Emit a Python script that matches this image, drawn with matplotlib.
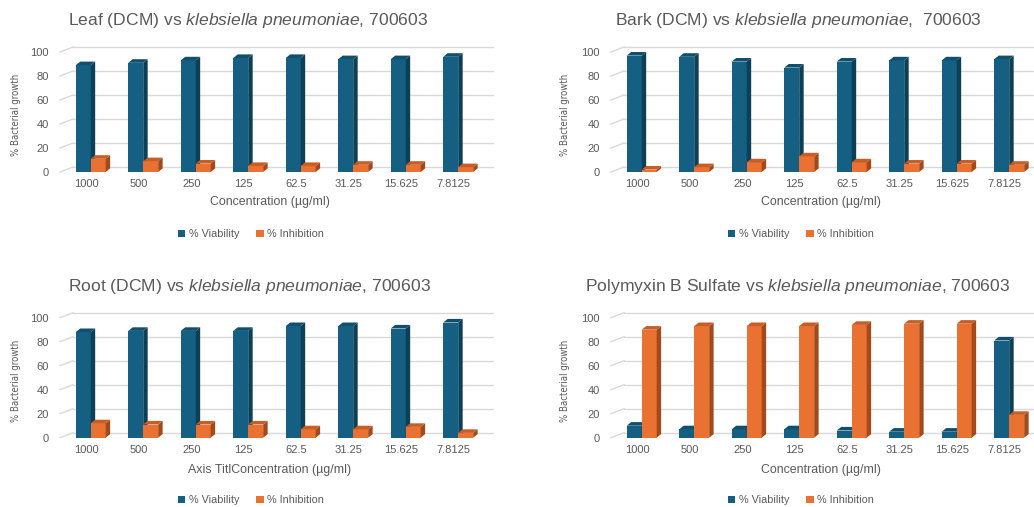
import matplotlib
matplotlib.use("Agg")
import matplotlib.pyplot as plt
from matplotlib.patches import Polygon, Patch
from matplotlib import font_manager

plt.rcParams['font.family'] = ['Liberation Sans', 'DejaVu Sans']
plt.rcParams['mathtext.fontset'] = 'custom'
plt.rcParams['mathtext.rm'] = 'Liberation Sans'
plt.rcParams['mathtext.it'] = 'Liberation Sans:italic'

# ---- data -------------------------------------------------------------
categories = ['1000', '500', '250', '125', '62.5', '31.25', '15.625', '7.8125']

leaf_viability = [89, 91, 93, 95, 95, 94, 94, 96]
leaf_inhibition = [11, 9, 7, 5, 5, 6, 6, 4]

bark_viability = [97, 96, 92, 87, 92, 93, 93, 94]
bark_inhibition = [2, 4, 8, 13, 8, 7, 7, 6]

root_viability = [88, 89, 89, 89, 93, 93, 91, 96]
root_inhibition = [12, 11, 11, 11, 7, 7, 9, 4]

poly_viability = [10, 7, 7, 7, 6, 5, 5, 81]
poly_inhibition = [90, 93, 93, 93, 94, 95, 95, 19]

titles = [
    r'Leaf (DCM) vs $\mathit{klebsiella\ pneumoniae}$, 700603',
    r'Bark (DCM) vs $\mathit{klebsiella\ pneumoniae}$,  700603',
    r'Root (DCM) vs $\mathit{klebsiella\ pneumoniae}$, 700603',
    r'Polymyxin B Sulfate vs $\mathit{klebsiella\ pneumoniae}$, 700603',
]
xlabels = ['Concentration (µg/ml)', 'Concentration (µg/ml)',
           'Axis TitlConcentration (µg/ml)', 'Concentration (µg/ml)']
ylabel = '% Bacterial growth'
series_names = ['% Viability', '% Inhibition']
yticks = [0, 20, 40, 60, 80, 100]

# ---- styling ----------------------------------------------------------
W, H = 1034, 507
TEXT = '#595959'
GRID = '#d9d9d9'
BLUE = ('#156082', '#0d3f57', '#10506f')      # front, side, top
ORANGE = ('#e97132', '#a24a1b', '#c85d25')

UNIT_PX = 52.5          # pixels per category
Y_PX = 1.2              # pixels per percentage point
WALL_DX = 0.25          # depth shift of back wall (category units)
WALL_DY = 4.2           # depth shift of back wall (value units)
BAR_DX = 0.085          # bar depth in category units
BAR_DY = 3.0            # bar depth in value units
BAR_W = 0.285
YMAX = 106

# narrow face for the vertical axis title
narrow = None
for f in font_manager.fontManager.ttflist:
    if f.name in ('Liberation Sans Narrow', 'DejaVu Sans Condensed') or \
            (f.name == 'DejaVu Sans' and f.stretch == 'condensed'
             and f.weight in (400, 'normal') and f.style == 'normal'):
        narrow = f.fname
        break
ylabel_font = (font_manager.FontProperties(fname=narrow, size=6.9)
               if narrow else font_manager.FontProperties(
                   family='Liberation Sans', size=6.4))

fig = plt.figure(figsize=(W / 100, H / 100), dpi=100)
fig.patch.set_facecolor('white')


def fig_xy(x, y):
    return x / W, 1 - y / H


def draw_bar3d(ax, x0, value, colors):
    front, side, top = colors
    ax.bar(x0, value, width=BAR_W, align='edge', color=front,
           linewidth=0, zorder=3)
    x1 = x0 + BAR_W
    ax.add_patch(Polygon([(x1, 0), (x1 + BAR_DX, BAR_DY),
                          (x1 + BAR_DX, value + BAR_DY), (x1, value)],
                         closed=True, facecolor=side, edgecolor='none',
                         zorder=3))
    ax.add_patch(Polygon([(x0, value), (x0 + BAR_DX, value + BAR_DY),
                          (x1 + BAR_DX, value + BAR_DY), (x1, value)],
                         closed=True, facecolor=top, edgecolor='none',
                         zorder=3))


def panel(left, base, viability, inhibition, title, xlabel,
          title_xy, ylabel_x, xlabel_y, legend_xy):
    width = (len(categories) + WALL_DX) * UNIT_PX
    height = YMAX * Y_PX
    ax = fig.add_axes([left / W, (H - base) / H, width / W, height / H])
    ax.set_xlim(-0.5, len(categories) - 0.5 + WALL_DX)
    ax.set_ylim(0, YMAX)
    for s in ax.spines.values():
        s.set_visible(False)
    ax.patch.set_alpha(0)

    # back wall gridlines and left-wall diagonals
    for v in yticks:
        ax.plot([-0.5 + WALL_DX, len(categories) - 0.5 + WALL_DX],
                [v + WALL_DY, v + WALL_DY], color=GRID, lw=1.0, zorder=1,
                clip_on=False)
        ax.plot([-0.5, -0.5 + WALL_DX], [v, v + WALL_DY], color=GRID,
                lw=1.0, zorder=1, clip_on=False)

    for i, (v1, v2) in enumerate(zip(viability, inhibition)):
        draw_bar3d(ax, i - 0.2, v1, BLUE)
        draw_bar3d(ax, i - 0.2 + BAR_W, v2, ORANGE)

    ax.set_yticks(yticks)
    ax.set_yticklabels([str(t) for t in yticks])
    ax.set_xticks(range(len(categories)))
    ax.set_xticklabels(categories)
    ax.tick_params(axis='y', length=0, pad=8, labelsize=8,
                   labelcolor=TEXT)
    ax.tick_params(axis='x', length=0, pad=5, labelsize=8,
                   labelcolor=TEXT)

    tx, ty = fig_xy(*title_xy)
    fig.text(tx, ty, title, ha='center', va='center', fontsize=12.6,
             color=TEXT)

    centre_x = left + len(categories) / 2 * UNIT_PX
    lx, ly = fig_xy(centre_x, xlabel_y)
    fig.text(lx, ly, xlabel, ha='center', va='center', fontsize=8.9,
             color=TEXT)

    yx, yy = fig_xy(ylabel_x, base - 47.5 * Y_PX)
    fig.text(yx, yy, ylabel, ha='center', va='center', rotation=90,
             color=TEXT, fontproperties=ylabel_font)

    handles = [Patch(facecolor=BLUE[0], edgecolor='none'),
               Patch(facecolor=ORANGE[0], edgecolor='none')]
    gx, gy = fig_xy(*legend_xy)
    fig.legend(handles, series_names, loc='center', bbox_to_anchor=(gx, gy),
               ncol=2, frameon=False, fontsize=7.8, labelcolor=TEXT,
               handlelength=0.65, handleheight=0.65, handletextpad=0.35,
               columnspacing=1.6, borderpad=0)
    return ax


panel(60, 172, leaf_viability, leaf_inhibition, titles[0], xlabels[0],
      (248, 21), 16, 202, (251, 234))
panel(611, 172, bark_viability, bark_inhibition, titles[1], xlabels[1],
      (798, 21), 565, 202, (801, 234))
panel(60, 437.7, root_viability, root_inhibition, titles[2], xlabels[2],
      (249, 286), 16, 470.5, (251, 500))
panel(611, 437.7, poly_viability, poly_inhibition, titles[3], xlabels[3],
      (798, 287), 565, 470, (801, 500))

fig.savefig('out.png', dpi=100, facecolor='white')
